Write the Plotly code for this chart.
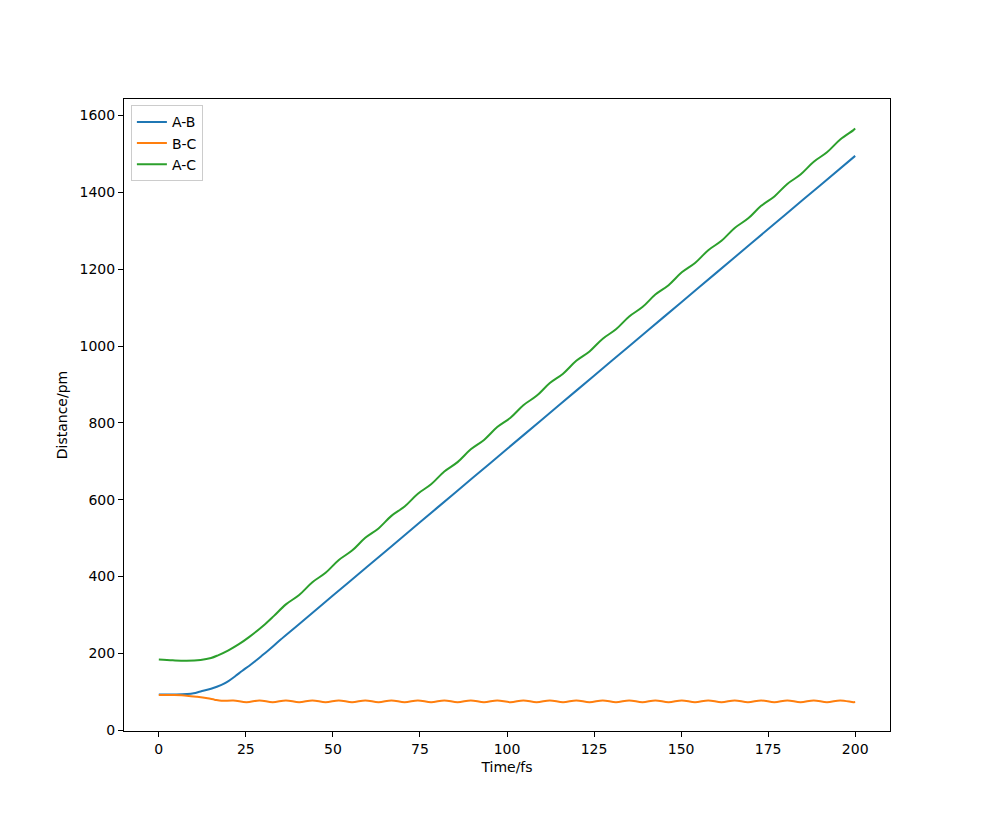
import plotly.graph_objects as go

# A-B distance (pm)
ab_time = [0, 5, 8, 10, 12, 15, 18, 20, 22, 24, 26, 28, 30, 32, 35, 40, 50, 60, 70, 80, 90, 100,
           110, 120, 130, 140, 150, 160, 170, 180, 190, 200]
ab_vals = [93, 93, 94, 96, 101, 108, 118, 128, 141, 155, 168, 182, 197, 212, 236, 274, 350.5, 426.8,
           503.1, 579.4, 655.7, 732, 808.3, 884.6, 960.9, 1037.2, 1113.5, 1189.8, 1266.1, 1342.4,
           1418.7, 1495]

# B-C distance (pm) read at turning points of the oscillation
bc_time = [0, 4, 8, 11, 14, 16, 18, 21.4, 25.2, 28.9, 32.7, 36.5, 40.3, 44.1, 47.9, 51.7, 55.5,
           59.3, 63.1, 66.8, 70.6, 74.4, 78.2, 82.0, 85.8, 89.6, 93.4, 97.2, 101.0, 104.7, 108.5,
           112.3, 116.1, 119.9, 123.7, 127.5, 131.3, 135.1, 138.9, 142.6, 146.4, 150.2, 154.0,
           157.8, 161.6, 165.4, 169.2, 173.0, 176.8, 180.5, 184.3, 188.1, 191.9, 195.7, 199.5, 200]
bc_vals = [92, 91.5, 90, 87, 83, 79.5, 76.5, 77.5, 73, 77.5, 73, 77.5, 73, 77.5, 73, 77.5, 73,
           77.5, 73, 77.5, 73, 77.5, 73, 77.5, 73, 77.5, 73, 77.5, 73, 77.5, 73, 77.5, 73, 77.5,
           73, 77.5, 73, 77.5, 73, 77.5, 73, 77.5, 73, 77.5, 73, 77.5, 73, 77.5, 73, 77.5, 73,
           77.5, 73, 77.5, 73, 73.2]

# A-C distance (pm)
ac_time = [0, 4, 8, 12, 15, 17, 20, 23, 26, 30, 33, 36.5, 40.3, 44.1, 47.9, 51.7, 55.5, 59.3,
           63.1, 66.8, 70.6, 74.4, 78.2, 82.0, 85.8, 89.6, 93.4, 97.2, 101.0, 104.7, 108.5,
           112.3, 116.1, 119.9, 123.7, 127.5, 131.3, 135.1, 138.9, 142.6, 146.4, 150.2, 154.0,
           157.8, 161.6, 165.4, 169.2, 173.0, 176.8, 180.5, 184.3, 188.1, 191.9, 195.7, 199.5, 200]
ac_vals = [184, 182, 181, 183, 188, 195, 208, 224, 243, 272, 297, 327.6, 352, 385.4, 409.8,
           443.2, 467.6, 500.9, 525.3, 557.9, 582.3, 615.7, 640.1, 673.4, 697.8, 731.2, 755.6,
           789.0, 813.4, 846.0, 870.4, 903.7, 928.1, 961.5, 985.9, 1019.2, 1043.6, 1077.0,
           1101.4, 1134.0, 1158.4, 1191.8, 1216.2, 1249.5, 1273.9, 1307.3, 1331.7, 1365.0,
           1389.4, 1422.0, 1446.4, 1479.8, 1504.2, 1537.6, 1562.0, 1566]

x_ticks = [0, 25, 50, 75, 100, 125, 150, 175, 200]
y_ticks = [0, 200, 400, 600, 800, 1000, 1200, 1400, 1600]

fig = go.Figure()
fig.add_trace(go.Scatter(x=ab_time, y=ab_vals, mode="lines", name="A-B",
                         line=dict(color="#1f77b4", width=2, shape="spline")))
fig.add_trace(go.Scatter(x=bc_time, y=bc_vals, mode="lines", name="B-C",
                         line=dict(color="#ff7f0e", width=2, shape="spline")))
fig.add_trace(go.Scatter(x=ac_time, y=ac_vals, mode="lines", name="A-C",
                         line=dict(color="#2ca02c", width=2, shape="spline")))

axis_common = dict(showgrid=False, zeroline=False, showline=True, linecolor="black",
                   linewidth=1, mirror=True, ticks="outside", ticklen=5, tickwidth=1,
                   tickcolor="black", tickfont=dict(family="DejaVu Sans", size=14, color="black"))

fig.update_layout(
    width=981, height=814,
    margin=dict(l=116, r=99, t=91, b=91),
    paper_bgcolor="white", plot_bgcolor="white",
    font=dict(family="DejaVu Sans", size=14, color="black"),
    xaxis=dict(range=[-10, 210], tickvals=x_ticks,
               title=dict(text="Time/fs", font=dict(size=14), standoff=6), **axis_common),
    yaxis=dict(range=[-2, 1643], tickvals=y_ticks,
               title=dict(text="Distance/pm", font=dict(size=14), standoff=8), **axis_common),
    legend=dict(x=0.009, y=0.99, xanchor="left", yanchor="top",
                bordercolor="#cccccc", borderwidth=1, bgcolor="rgba(255,255,255,0.8)",
                font=dict(size=14), itemwidth=30, tracegroupgap=0),
    showlegend=True,
)

fig.write_html("out.html")
